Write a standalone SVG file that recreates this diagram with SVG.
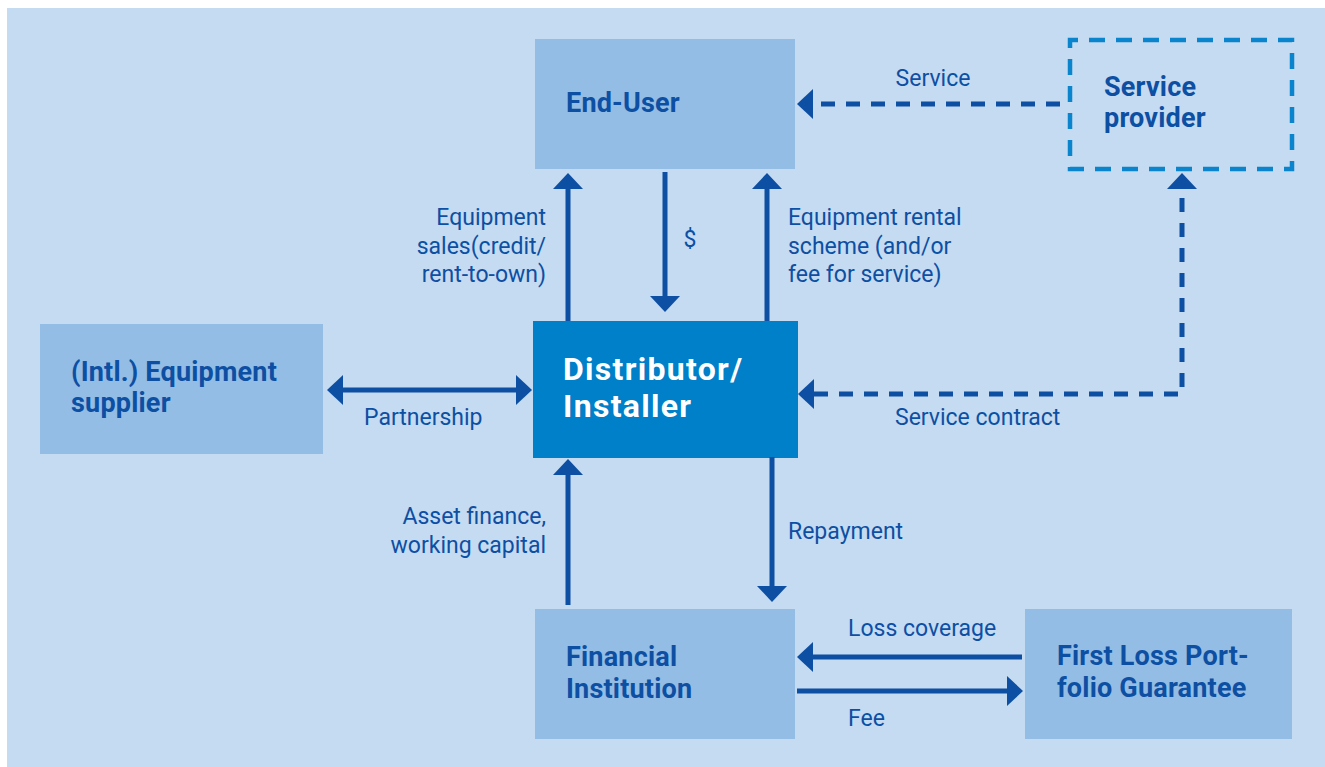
<svg xmlns="http://www.w3.org/2000/svg" width="1325" height="767" viewBox="0 0 1325 767">
<style>
.box{fill:#93bde4}
.title{font-family:Roboto,"Liberation Sans",sans-serif;font-weight:bold;font-size:27px;fill:#0d4fa3;letter-spacing:0.2px}
.dist{font-family:Roboto,"Liberation Sans",sans-serif;font-weight:bold;font-size:32px;fill:#ffffff;letter-spacing:1.3px}
.lbl{font-family:Roboto,"Liberation Sans",sans-serif;font-size:23px;fill:#0d4fa3}
.ln{fill:none;stroke:#0d4fa3;stroke-width:5}
.dash{fill:none;stroke:#0d4fa3;stroke-width:5;stroke-dasharray:14 11}
</style>
<defs>
<marker id="ah" viewBox="0 0 16 30" refX="0" refY="15" markerWidth="16" markerHeight="30" markerUnits="userSpaceOnUse" orient="auto-start-reverse">
<path d="M0,0 L16,15 L0,30 Z" fill="#0d4fa3"/>
</marker>
</defs>
<rect x="7" y="8" width="1318" height="759" fill="#c5dbf1"/>

<g id="end-user">
<rect class="box" x="535" y="39" width="260" height="130"/>
<text class="title" x="566" y="112">End-User</text>
</g>
<g id="service-provider">
<rect x="1070" y="40" width="222" height="129" fill="none" stroke="#0a84cc" stroke-width="4.5" stroke-dasharray="16 11" stroke-dashoffset="8"/>
<text class="title" x="1104" y="96">Service</text>
<text class="title" x="1104" y="127">provider</text>
</g>
<g id="distributor">
<rect x="533" y="321" width="265" height="137" fill="#0080c8"/>
<text class="dist" x="563" y="380">Distributor/</text>
<text class="dist" x="563" y="417">Installer</text>
</g>
<g id="equipment-supplier">
<rect class="box" x="40" y="324" width="283" height="130"/>
<text class="title" x="71" y="381">(Intl.) Equipment</text>
<text class="title" x="71" y="412">supplier</text>
</g>
<g id="financial-institution">
<rect class="box" x="535" y="609" width="260" height="130"/>
<text class="title" x="566" y="666">Financial</text>
<text class="title" x="566" y="698">Institution</text>
</g>
<g id="first-loss">
<rect class="box" x="1025" y="609" width="267" height="130"/>
<text class="title" x="1057" y="665">First Loss Port-</text>
<text class="title" x="1057" y="697">folio Guarantee</text>
</g>

<g id="connectors">
<path class="ln" d="M568,321 V189" marker-end="url(#ah)"/>
<path class="ln" d="M665,172 V296" marker-end="url(#ah)"/>
<path class="ln" d="M767,321 V189" marker-end="url(#ah)"/>
<path class="ln" d="M343,390 H516" marker-start="url(#ah)" marker-end="url(#ah)"/>
<path class="ln" d="M568,605 V475" marker-end="url(#ah)"/>
<path class="ln" d="M772,457 V586" marker-end="url(#ah)"/>
<path class="ln" d="M1022,657 H813" marker-end="url(#ah)"/>
<path class="ln" d="M797,691 H1007" marker-end="url(#ah)"/>
<path class="dash" d="M1060,104 H813" marker-end="url(#ah)"/>
<path class="dash" d="M814,394 H1182 V189" marker-start="url(#ah)" marker-end="url(#ah)"/>
</g>

<g id="labels">
<text class="lbl" x="933" y="86" text-anchor="middle">Service</text>
<text class="lbl" x="546" y="225" text-anchor="end">Equipment</text>
<text class="lbl" x="546" y="254" text-anchor="end">sales(credit/</text>
<text class="lbl" x="546" y="282" text-anchor="end">rent-to-own)</text>
<text class="lbl" x="690" y="247" text-anchor="middle">$</text>
<text class="lbl" x="788" y="225">Equipment rental</text>
<text class="lbl" x="788" y="254">scheme (and/or</text>
<text class="lbl" x="788" y="282">fee for service)</text>
<text class="lbl" x="364" y="425">Partnership</text>
<text class="lbl" x="895" y="425">Service contract</text>
<text class="lbl" x="546" y="524" text-anchor="end">Asset finance,</text>
<text class="lbl" x="546" y="553" text-anchor="end">working capital</text>
<text class="lbl" x="788" y="539">Repayment</text>
<text class="lbl" x="848" y="636">Loss coverage</text>
<text class="lbl" x="848" y="726">Fee</text>
</g>
</svg>
